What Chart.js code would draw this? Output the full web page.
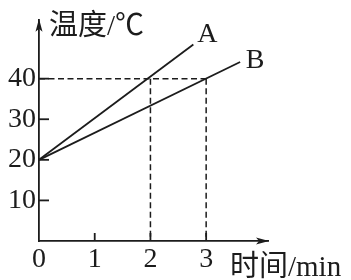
<!DOCTYPE html>
<html>
<head>
<meta charset="utf-8">
<script src="https://cdn.jsdelivr.net/npm/chart.js@4"></script>
<style>
html,body{margin:0;padding:0;background:#fff;}
#wrap{width:351px;height:280px;position:relative;}
</style>
</head>
<body>
<div id="wrap"><canvas id="c"></canvas></div>
<script>
const timeTicks = [0, 1, 2, 3];
const tempTicks = [10, 20, 30, 40];
const seriesNames = ['A', 'B'];
const timeA = [0, 2.77];
const tempA = [20, 48.4];
const timeB = [0, 3.61];
const tempB = [20, 44.1];
const guideTimes = [2, 3];
const guideTemp = 40;
const timeAxisMax = 4.11;
const tempAxisMax = 54.5;
const xTitle = '时间/min';
const yTitle = '温度/℃';

const INK = '#1c1c1c';
const NUM_FONT = '28px "Liberation Serif", serif';
const TITLE_FONT = '29px "Liberation Serif", "Noto Sans CJK SC", serif';

function pts(xs, ys) { return xs.map((x, i) => ({x: x, y: ys[i]})); }

const datasets = [];
// guide lines
datasets.push({data: [{x: 0, y: guideTemp}, {x: guideTimes[guideTimes.length - 1], y: guideTemp}], dash: true});
guideTimes.forEach(t => datasets.push({data: [{x: t, y: guideTemp}, {x: t, y: 0}], dash: true}));
datasets.push({label: seriesNames[0], data: pts(timeA, tempA)});
datasets.push({label: seriesNames[1], data: pts(timeB, tempB)});
datasets.forEach(d => {
  d.showLine = true; d.pointRadius = 0; d.borderColor = INK; d.clip = false;
  d.borderWidth = d.dash ? 1.5 : 1.8;
  d.borderDash = d.dash ? [6, 3.5] : [];
  d.tension = 0;
});

const decor = {
  id: 'decor',
  afterDraw(chart) {
    const ctx = chart.ctx, xs = chart.scales.x, ys = chart.scales.y;
    const x0 = xs.getPixelForValue(0), y0 = ys.getPixelForValue(0);
    const xEnd = xs.getPixelForValue(timeAxisMax), yEnd = ys.getPixelForValue(tempAxisMax);
    ctx.save();
    ctx.strokeStyle = INK; ctx.fillStyle = INK; ctx.lineWidth = 1.8;
    // tick marks
    tempTicks.forEach(v => {
      const y = ys.getPixelForValue(v);
      ctx.beginPath(); ctx.moveTo(x0, y); ctx.lineTo(x0 + 10, y); ctx.stroke();
    });
    timeTicks.forEach(v => {
      if (v === 0) return;
      const x = xs.getPixelForValue(v);
      ctx.beginPath(); ctx.moveTo(x, y0); ctx.lineTo(x, y0 - 8); ctx.stroke();
    });
    // arrows
    ctx.beginPath();
    ctx.moveTo(x0, yEnd - 1); ctx.lineTo(x0 - 3.5, yEnd + 12); ctx.lineTo(x0, yEnd + 9); ctx.lineTo(x0 + 3.5, yEnd + 12); ctx.closePath(); ctx.fill();
    ctx.beginPath();
    ctx.moveTo(xEnd + 1, y0); ctx.lineTo(xEnd - 12, y0 - 3.5); ctx.lineTo(xEnd - 9, y0); ctx.lineTo(xEnd - 12, y0 + 3.5); ctx.closePath(); ctx.fill();
    // titles
    ctx.font = TITLE_FONT; ctx.textBaseline = 'middle'; ctx.textAlign = 'left';
    ctx.fillText(yTitle, x0 + 10, yEnd + 8);
    ctx.fillText(xTitle, xEnd - 38, y0 + 27);
    // series labels
    ctx.font = NUM_FONT; ctx.textAlign = 'center';
    const ax = xs.getPixelForValue(timeA[timeA.length - 1]), ay = ys.getPixelForValue(tempA[tempA.length - 1]);
    ctx.fillText(seriesNames[0], ax + 14, ay - 10);
    const bx = xs.getPixelForValue(timeB[timeB.length - 1]), by = ys.getPixelForValue(tempB[tempB.length - 1]);
    ctx.fillText(seriesNames[1], bx + 15, by - 1);
    ctx.restore();
  }
};

new Chart(document.getElementById('c'), {
  type: 'scatter',
  data: {datasets: datasets},
  options: {
    responsive: true,
    maintainAspectRatio: false,
    animation: false,
    events: [],
    layout: {padding: {top: 9, right: 83, left: 0, bottom: 0}},
    plugins: {legend: {display: false}, tooltip: {enabled: false}},
    scales: {
      x: {
        type: 'linear', min: 0, max: timeAxisMax,
        afterBuildTicks: s => { s.ticks = timeTicks.map(v => ({value: v})); },
        afterFit: s => { s.height = 39; },
        grid: {display: false, drawTicks: false},
        border: {display: true, color: INK, width: 1.8},
        ticks: {color: INK, font: {family: '"Liberation Serif", serif', size: 28}, padding: 2, autoSkip: false, maxRotation: 0, callback: v => String(v)}
      },
      y: {
        type: 'linear', min: 0, max: tempAxisMax,
        afterBuildTicks: s => { s.ticks = tempTicks.map(v => ({value: v})); },
        afterFit: s => { s.width = 39; },
        grid: {display: false, drawTicks: false},
        border: {display: true, color: INK, width: 1.8},
        ticks: {color: INK, font: {family: '"Liberation Serif", serif', size: 28}, padding: 3, autoSkip: false, callback: v => String(v)}
      }
    }
  },
  plugins: [decor]
});
</script>
</body>
</html>
